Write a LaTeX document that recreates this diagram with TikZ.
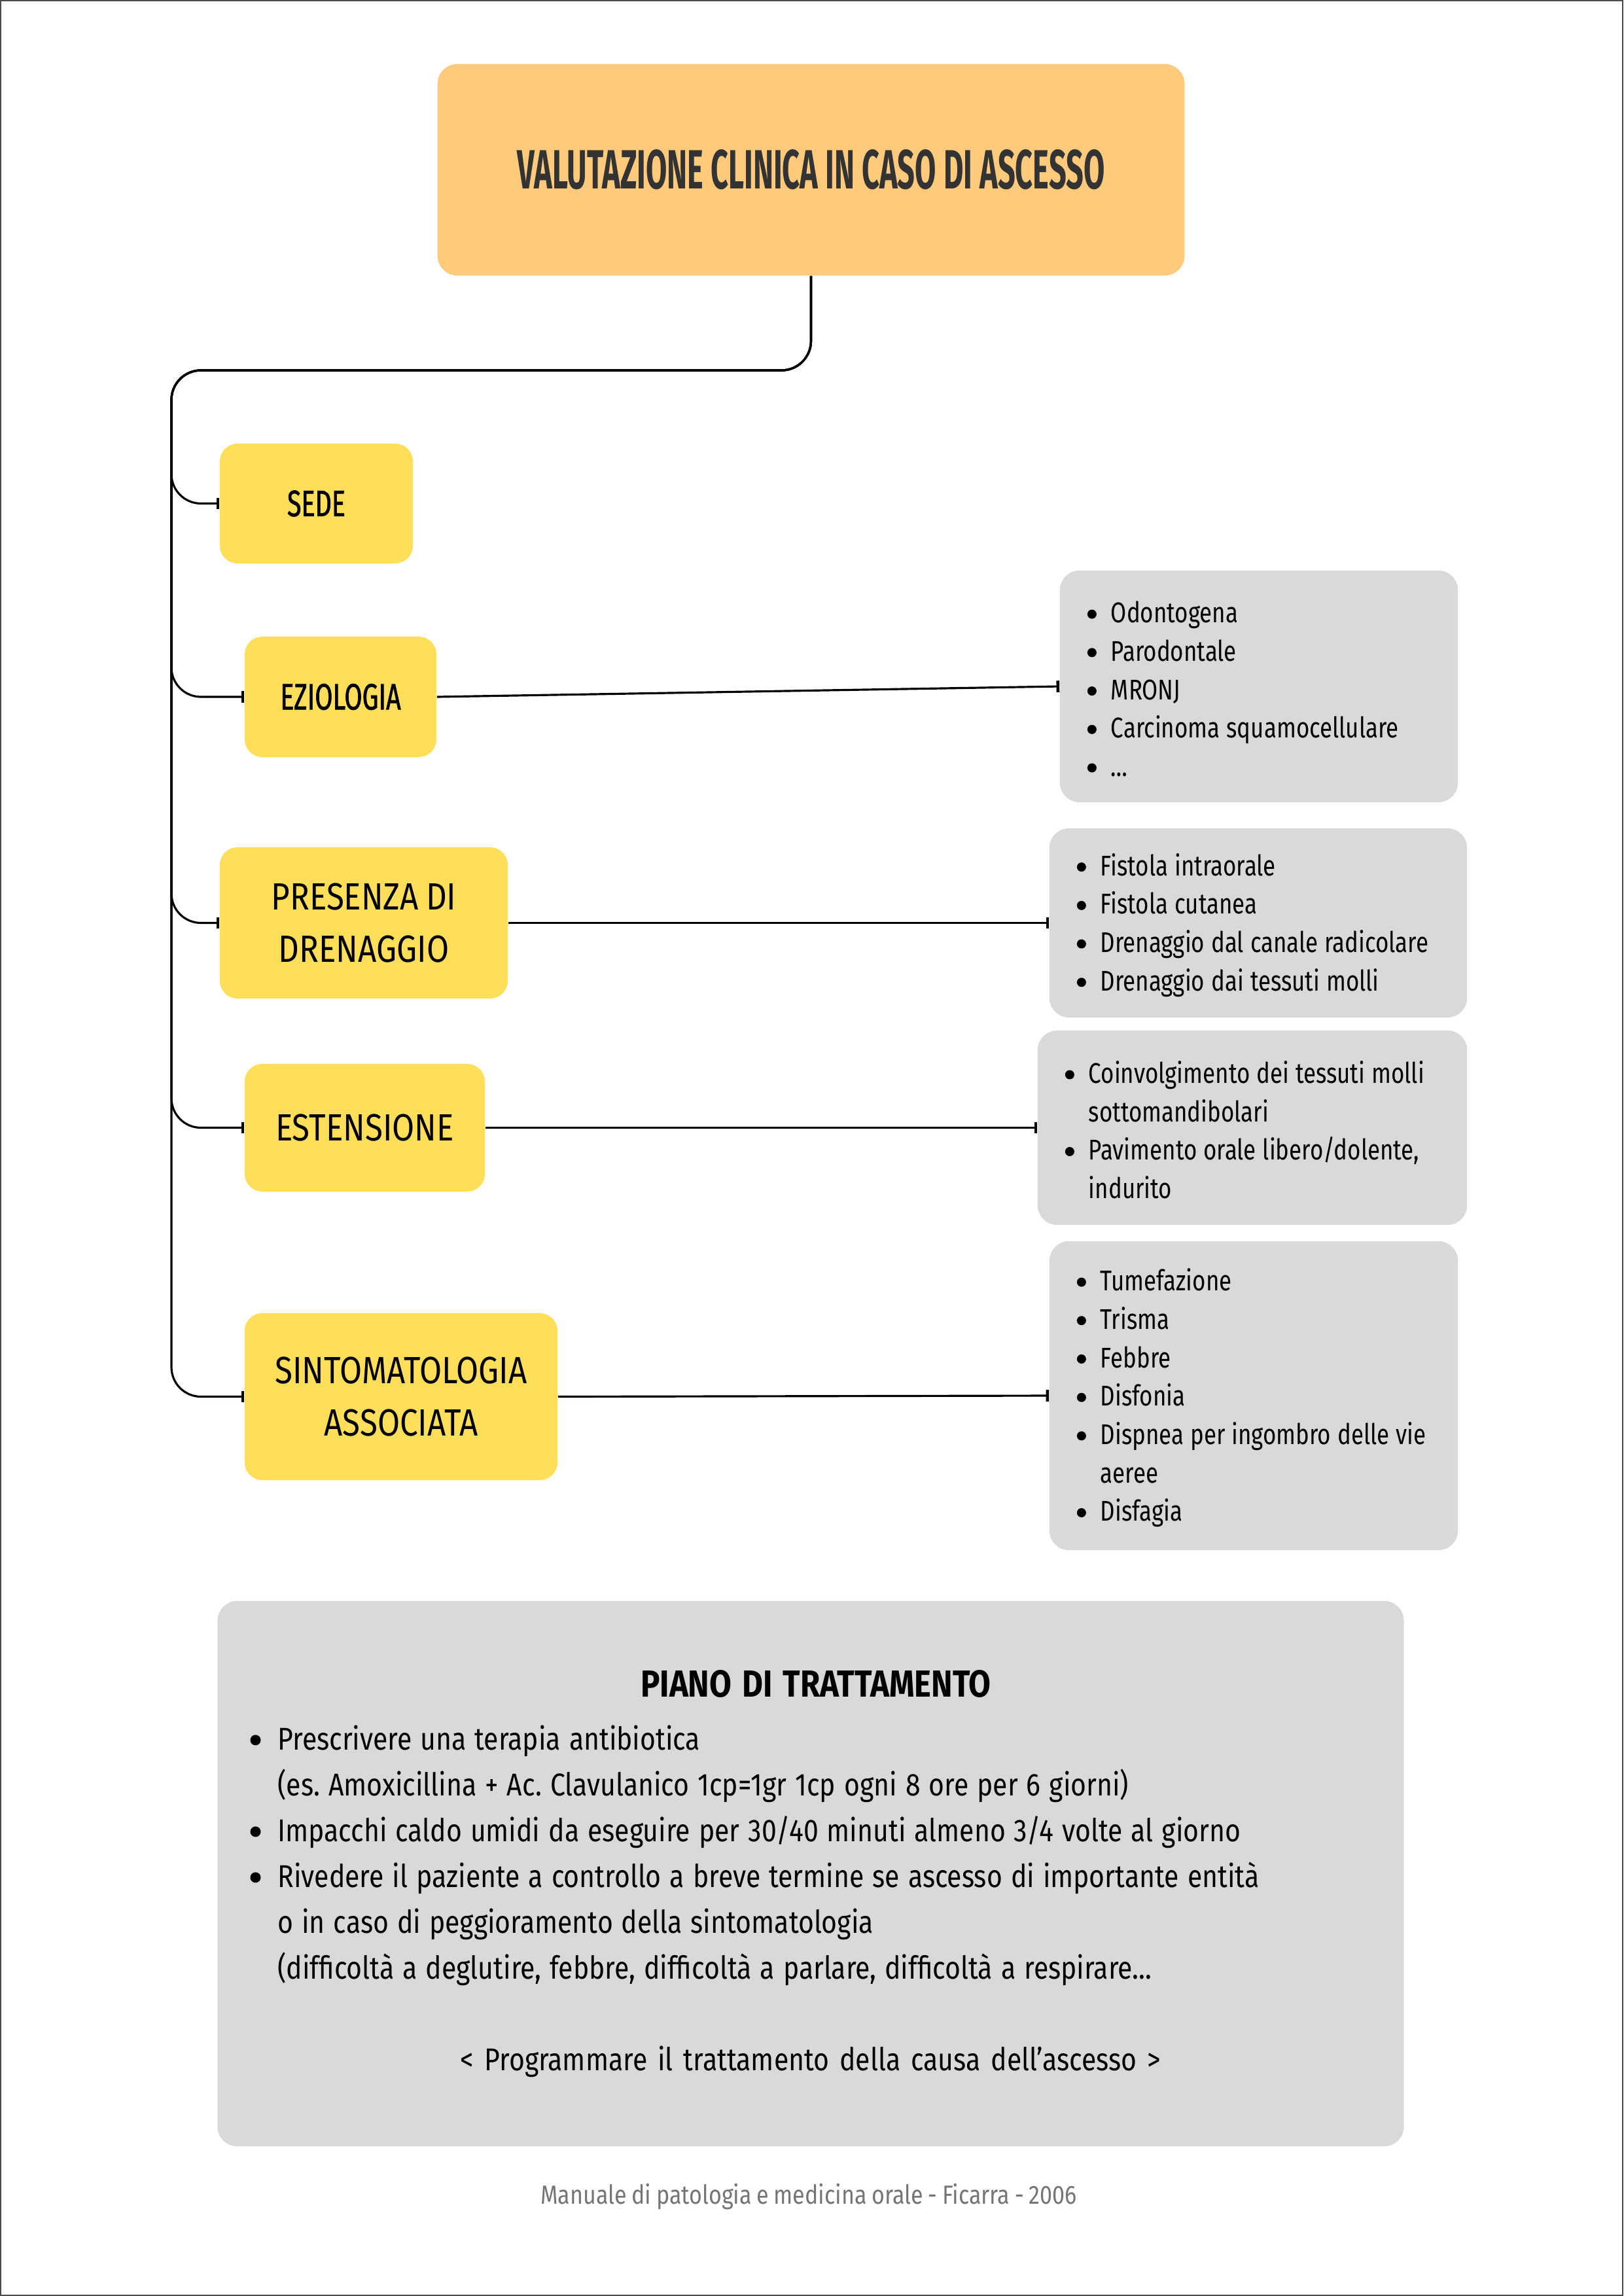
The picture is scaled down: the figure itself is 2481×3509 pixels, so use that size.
\documentclass[tikz,border=0pt]{standalone}
\usepackage{fontspec}
\setmainfont{Fira Sans}[FakeStretch=0.85,WordSpace=0.85]
\newfontfamily\listfont{Fira Sans}[FakeStretch=0.8]
\newfontfamily\titlefont{Fira Sans}[FakeStretch=0.555]
\newfontfamily\headfont{Fira Sans}[FakeStretch=0.7,FakeBold=1.2]
\usepackage{enumitem}
\usetikzlibrary{arrows.meta}
\frenchspacing
\definecolor{titlefill}{HTML}{FFCA7B}
\definecolor{catfill}{HTML}{FFDE59}
\definecolor{listfill}{HTML}{D9D9D9}
\definecolor{titletext}{HTML}{333333}
\definecolor{notetext}{HTML}{757575}
\newcommand{\mydot}[2]{\tikz[baseline=0pt]\fill (0,#1) circle (#2);}
\newcommand{\mylist}[1]{%
  \vspace*{-0.18cm}\spaceskip=0.23em\relax
  \begin{itemize}[label={\mydot{0.13cm}{0.07cm}},nosep,leftmargin=0.36cm,labelsep=0.22cm,rightmargin=-0.4cm]#1\end{itemize}}
\tikzset{
mycat/.style={
  rectangle,
  fill=catfill,
  rounded corners=0.27cm,
  inner sep=0pt,
  align=center,
  font=\fontsize{16.5pt}{23pt}\selectfont
  },
myhead/.style={
  mycat,
  font=\headfont\fontsize{16pt}{20pt}\selectfont
  },
mylist/.style={
  rectangle,
  fill=listfill,
  rounded corners=0.3cm,
  inner xsep=0.42cm,
  inner ysep=0pt,
  text width=#1,
  align=left,
  font=\listfont\fontsize{12.4pt}{16.7pt}\selectfont
  },
mylink/.style={
  line width=0.9pt,
  -{Bar[width=5pt,line width=1.3pt]}
  },
mybranch/.style={
  mylink,
  rounded corners=0.45cm
  }
}
\begin{document}
\begin{tikzpicture}[x=0.01cm,y=-0.01cm]
    \useasboundingbox (0,0) rectangle (2481,3509);
    \draw[black!70,line width=0.02cm] (1,1) rectangle (2480,3508);
    % title
    \node[fill=titlefill,rounded corners=0.3cm,minimum width=11.41cm,minimum height=3.23cm,
          text=titletext,font=\titlefont\bfseries\fontsize{24pt}{28pt}\selectfont]
          (title) at (1239.5,259.5) {VALUTAZIONE CLINICA IN CASO DI ASCESSO};
    % categories
    \node[myhead,minimum width=2.95cm,minimum height=1.83cm] (sede) at (483.5,769.5) {SEDE};
    \node[myhead,minimum width=2.93cm,minimum height=1.84cm] (eziol) at (520.5,1065) {EZIOLOGIA};
    \node[mycat,minimum width=4.40cm,minimum height=2.31cm] (drenaggio) at (556,1410.5) {PRESENZA DI\\DRENAGGIO};
    \node[mycat,minimum width=3.67cm,minimum height=1.95cm] (estensione) at (557.5,1723.5) {ESTENSIONE};
    \node[mycat,minimum width=4.78cm,minimum height=2.55cm] (sintomi) at (613,2134.5) {SINTOMATOLOGIA\\ASSOCIATA};
    % lists
    \node[mylist=5.24cm,minimum height=3.54cm] (listeziol) at (1924,1049) {\mylist{
        \item Odontogena
        \item Parodontale
        \item MRONJ
        \item Carcinoma squamocellulare
        \item \dots}};
    \node[mylist=5.54cm,minimum height=2.89cm] (listdren) at (1923,1410.5) {\mylist{
        \item Fistola intraorale
        \item Fistola cutanea
        \item Drenaggio dal canale radicolare
        \item Drenaggio dai tessuti molli}};
    \node[mylist=5.72cm,minimum height=2.97cm] (listest) at (1914,1723.5) {\mylist{
        \item Coinvolgimento dei tessuti molli\\sottomandibolari
        \item Pavimento orale libero/dolente,\\indurito}};
    \node[mylist=5.40cm,minimum height=4.72cm] (listsint) at (1916,2133) {\mylist{
        \item Tumefazione
        \item Trisma
        \item Febbre
        \item Disfonia
        \item Dispnea per ingombro delle vie\\aeree
        \item Disfagia}};
    % treatment
    \node[mylist=17.12cm,inner xsep=0.5cm,minimum height=8.33cm,
          font=\fontsize{13.7pt}{19.9pt}\selectfont] (piano) at (1239,2863.5) {%
        \vspace*{0.40cm}
        {\centering\bfseries\fontsize{16.4pt}{19.9pt}\selectfont PIANO DI TRATTAMENTO\par}
        \vspace{-0.29cm}
        {\spaceskip=0.27em\relax
        \begin{itemize}[label={\mydot{0.15cm}{0.08cm}},nosep,leftmargin=0.42cm,labelsep=0.26cm]
        \item Prescrivere una terapia antibiotica\\(es. Amoxicillina + Ac. Clavulanico 1cp=1gr 1cp ogni 8 ore per 6 giorni)
        \item Impacchi caldo umidi da eseguire per 30/40 minuti almeno 3/4 volte al giorno
        \item Rivedere il paziente a controllo a breve termine se ascesso di importante entità\\o in caso di peggioramento della sintomatologia\\(difficoltà a deglutire, febbre, difficoltà a parlare, difficoltà a respirare...
        \end{itemize}}
        \vspace{19.9pt}
        {\centering < Programmare il trattamento della causa dell’ascesso >\par}};
    \node[anchor=base,text=notetext,font=\fontsize{11.4pt}{13pt}\selectfont] (source) at (1236,3368)
        {Manuale di patologia e medicina orale - Ficarra - 2006};
    % connectors
    \coordinate (trunk) at (262,566);
    \foreach \b in {sede,eziol,drenaggio,estensione,sintomi}
        \draw[mybranch] (title.south) |- (trunk) |- (\b.west);
    \draw[mylink] (eziol.east) -- (listeziol.west);
    \draw[mylink] (drenaggio.east) -- (listdren.west);
    \draw[mylink] (estensione.east) -- (listest.west);
    \draw[mylink] (sintomi.east) -- (listsint.west);
\end{tikzpicture}
\end{document}
